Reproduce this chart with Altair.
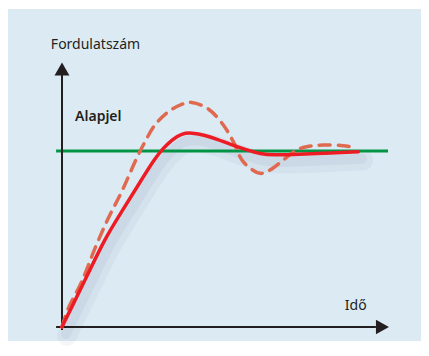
import altair as alt
import pandas as pd

# Measured response curves (time, speed relative to setpoint)
t_solid = [0, 0.398, 0.795, 1.315, 1.826, 2.333, 2.844, 3.089, 3.364, 3.661, 3.966, 4.373, 4.771, 5.138, 5.648, 6.055, 6.514, 6.972, 7.991, 9.061]
v_solid = [0, 0.151, 0.301, 0.504, 0.655, 0.807, 0.959, 1.014, 1.065, 1.100, 1.104, 1.090, 1.065, 1.038, 1.006, 0.983, 0.977, 0.980, 0.987, 0.996]

t_dash = [0, 0.193, 0.602, 1.009, 1.416, 1.826, 2.284, 2.486, 2.844, 3.251, 3.661, 3.966, 4.474, 4.933, 5.239, 5.544, 6.055, 6.361, 6.767, 7.177, 7.483, 7.991, 8.602, 8.960]
v_dash = [0, 0.106, 0.257, 0.447, 0.618, 0.769, 0.959, 1.034, 1.148, 1.223, 1.265, 1.276, 1.239, 1.148, 1.053, 0.939, 0.873, 0.892, 0.949, 1.006, 1.024, 1.034, 1.030, 1.019]

setpoint = 1.0
t_setpoint = [-0.18, 9.97]

label_text = ["Fordulatszám", "Alapjel", "Idő"]
label_t = [-0.34, 0.40, 8.65]
label_v = [1.602, 1.193, 0.119]
label_weight = ["normal", "bold", "normal"]

# view spans page x 8..421, page y 9..341 ; t=0 at x 62 (32.7 px/unit), v=0 at y 327 (176 px/unit)
XD = [-1.651, 10.979]
YD = [-0.0795, 1.8068]
xs = alt.Scale(domain=XD, nice=False, zero=False)
ys = alt.Scale(domain=YD, nice=False, zero=False)

solid = pd.DataFrame({"t": t_solid, "v": v_solid})
dash = pd.DataFrame({"t": t_dash, "v": v_dash})
sp = pd.DataFrame({"t": t_setpoint, "v": [setpoint, setpoint]})

X = alt.X("t:Q", scale=xs, axis=None)
Y = alt.Y("v:Q", scale=ys, axis=None)

yaxis = alt.Chart(pd.DataFrame({"t": [0], "v": [-0.017], "v2": [1.432]})).mark_rule(
    color="#231f20", strokeWidth=2).encode(x=X, y=Y, y2="v2:Q")
xaxis = alt.Chart(pd.DataFrame({"t": [-0.18], "t2": [9.60], "v": [0]})).mark_rule(
    color="#231f20", strokeWidth=2).encode(x=X, x2="t2:Q", y=Y)
yarrow = alt.Chart(pd.DataFrame({"t": [0], "v": [1.466]})).mark_point(
    shape="M-1.15,1L0,-1L1.15,1Z", size=169, filled=True, color="#231f20", opacity=1
).encode(x=X, y=Y)
xarrow = alt.Chart(pd.DataFrame({"t": [9.80], "v": [0]})).mark_point(
    shape="M-1,-1.1L1,0L-1,1.1Z", size=169, filled=True, color="#231f20", opacity=1
).encode(x=X, y=Y)

shadow1 = alt.Chart(solid).transform_calculate(vs="datum.v - 0.05", ts="datum.t + 0.15").mark_line(
    interpolate="basis", color="#8aa0b2", strokeWidth=20, opacity=0.09, strokeCap="round"
).encode(x=alt.X("ts:Q", scale=xs, axis=None), y=alt.Y("vs:Q", scale=ys, axis=None))
shadow2 = alt.Chart(solid).transform_calculate(vs="datum.v - 0.04", ts="datum.t + 0.12").mark_line(
    interpolate="basis", color="#8aa0b2", strokeWidth=10, opacity=0.13, strokeCap="round"
).encode(x=alt.X("ts:Q", scale=xs, axis=None), y=alt.Y("vs:Q", scale=ys, axis=None))

green = alt.Chart(sp).mark_line(color="#009444", strokeWidth=3).encode(x=X, y=Y)

dashed = alt.Chart(dash).mark_line(
    interpolate="catmull-rom", color="#e06a50", strokeWidth=3.5, strokeDash=[11, 8], strokeCap="round"
).encode(x=X, y=Y)
solidl = alt.Chart(solid).mark_line(
    interpolate="basis", color="#ed1c24", strokeWidth=3.5, strokeCap="round"
).encode(x=X, y=Y)

labels = pd.DataFrame({"t": label_t, "v": label_v, "txt": label_text, "w": label_weight})
txt_n = alt.Chart(labels).transform_filter("datum.w == 'normal'").mark_text(
    align="left", baseline="middle", font="Noto Sans", fontSize=14, color="#231f20"
).encode(x=X, y=Y, text="txt:N")
txt_b = alt.Chart(labels).transform_filter("datum.w == 'bold'").mark_text(
    align="left", baseline="middle", font="Noto Sans", fontSize=14, fontWeight=600, color="#231f20"
).encode(x=X, y=Y, text="txt:N")

chart = alt.layer(
    shadow1, shadow2, green, yaxis, xaxis, yarrow, xarrow, dashed, solidl, txt_n, txt_b
).properties(
    width=413, height=332, padding={"left": 0, "top": 1, "right": 0, "bottom": 0},
    background="white"
).configure_view(fill="#dceaf3", stroke=None)

chart.save("out.html", embed_options={"renderer": "svg", "actions": False})
